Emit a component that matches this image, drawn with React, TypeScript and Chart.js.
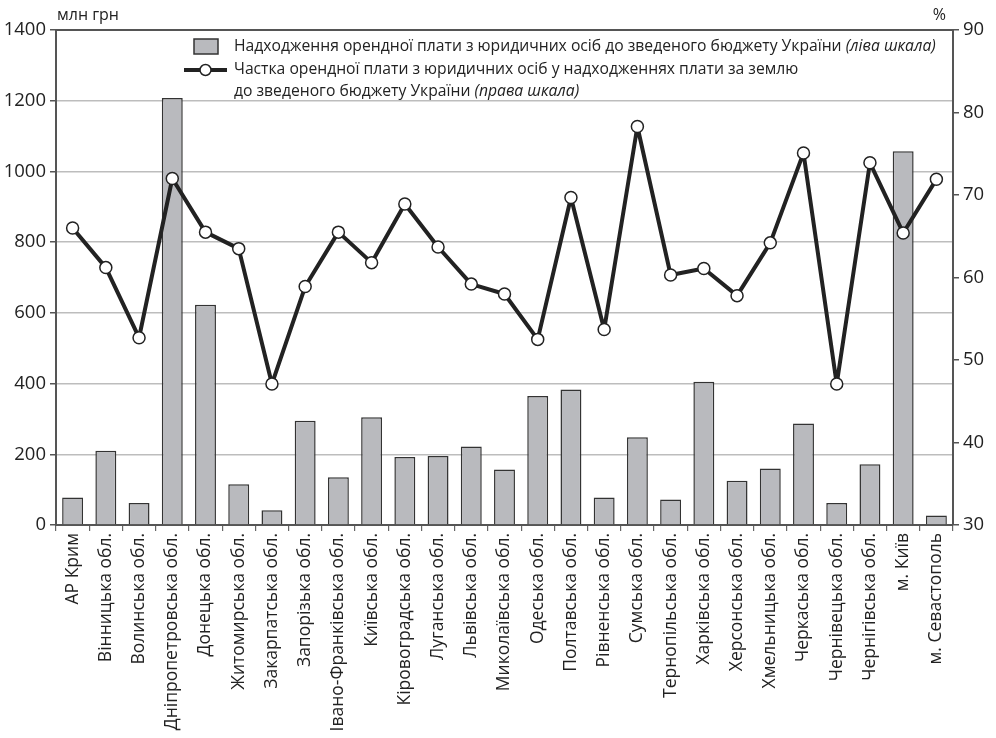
import React, { useEffect, useRef } from "react";
import { Chart, registerables } from "chart.js";

Chart.register(...registerables);

const categories = [
  "АР Крим", "Вінницька обл.", "Волинська обл.", "Дніпропетровська обл.", "Донецька обл.",
  "Житомирська обл.", "Закарпатська обл.", "Запорізька обл.", "Івано-Франківська обл.", "Київська обл.",
  "Кіровоградська обл.", "Луганська обл.", "Львівська обл.", "Миколаївська обл.", "Одеська обл.",
  "Полтавська обл.", "Рівненська обл.", "Сумська обл.", "Тернопільська обл.", "Харківська обл.",
  "Херсонська обл.", "Хмельницька обл.", "Черкаська обл.", "Чернівецька обл.", "Чернігівська обл.",
  "м. Київ", "м. Севастополь",
];

const rentRevenue = [
  78, 210, 62, 1208, 623, 115, 42, 295, 135, 305, 192, 195, 222, 157, 365,
  383, 78, 248, 72, 405, 125, 160, 287, 62, 172, 1057, 27,
];

const rentShare = [
  66.0, 61.2, 52.7, 72.0, 65.5, 63.5, 47.1, 58.9, 65.5, 61.8, 68.9, 63.7, 59.2, 58.0, 52.5,
  69.7, 53.7, 78.3, 60.3, 61.1, 57.8, 64.2, 75.1, 47.1, 73.9, 65.4, 71.9,
];

const leftTicks = [0, 200, 400, 600, 800, 1000, 1200, 1400];
const rightTicks = [30, 40, 50, 60, 70, 80, 90];

const legendBarText = "Надходження орендної плати з юридичних осіб до зведеного бюджету України ";
const legendBarItalic = "(ліва шкала)";
const legendLineText1 = "Частка орендної плати з юридичних осіб у надходженнях плати за землю";
const legendLineText2 = "до зведеного бюджету України ";
const legendLineItalic = "(права шкала)";
const leftUnit = "млн грн";
const rightUnit = "%";

const FONT = "'Open Sans', 'Noto Sans', sans-serif";
const TEXT = "#222";
const AXIS = "#555";
const GRID = "#bdbdbd";
const BAR_FILL = "#b9babe";
const BAR_BORDER = "#333";

const overlayPlugin = {
  id: "overlay",
  afterDraw(chart: any) {
    const ctx = chart.ctx;
    const a = chart.chartArea;
    ctx.save();
    // top border
    ctx.strokeStyle = AXIS;
    ctx.lineWidth = 2;
    ctx.beginPath();
    ctx.moveTo(a.left, a.top);
    ctx.lineTo(a.right, a.top);
    ctx.stroke();

    // unit labels
    ctx.fillStyle = TEXT;
    ctx.textBaseline = "middle";
    ctx.font = `16px ${FONT}`;
    ctx.textAlign = "left";
    ctx.fillText(leftUnit, a.left + 1, 15);
    ctx.textAlign = "right";
    ctx.fillText(rightUnit, a.right - 7, 15);

    // legend
    const tx = 234;
    const rows = [47, 70, 92];
    ctx.fillStyle = BAR_FILL;
    ctx.strokeStyle = BAR_BORDER;
    ctx.lineWidth = 1.5;
    ctx.fillRect(194, 39, 24, 15);
    ctx.strokeRect(194, 39, 24, 15);

    ctx.strokeStyle = "#222";
    ctx.lineWidth = 4;
    ctx.beginPath();
    ctx.moveTo(184, rows[1]);
    ctx.lineTo(227, rows[1]);
    ctx.stroke();
    ctx.fillStyle = "#fff";
    ctx.lineWidth = 1.5;
    ctx.beginPath();
    ctx.arc(205.5, rows[1], 5.5, 0, Math.PI * 2);
    ctx.fill();
    ctx.stroke();

    const normal = `15.7px ${FONT}`;
    const italic = `italic 15.7px ${FONT}`;
    ctx.fillStyle = TEXT;
    ctx.textAlign = "left";
    ctx.font = normal;
    ctx.fillText(legendBarText, tx, rows[0]);
    let w = ctx.measureText(legendBarText).width;
    ctx.font = italic;
    ctx.fillText(legendBarItalic, tx + w, rows[0]);
    ctx.font = normal;
    ctx.fillText(legendLineText1, tx, rows[1]);
    ctx.fillText(legendLineText2, tx, rows[2]);
    w = ctx.measureText(legendLineText2).width;
    ctx.font = italic;
    ctx.fillText(legendLineItalic, tx + w, rows[2]);
    ctx.restore();
  },
};

export default function App() {
  const ref = useRef<HTMLCanvasElement | null>(null);

  useEffect(() => {
    document.body.style.margin = "0";
    const canvas = ref.current;
    if (!canvas) return;
    const chart = new Chart(canvas, {
      type: "bar",
      data: {
        labels: categories,
        datasets: [
          {
            type: "line",
            label: "share",
            data: rentShare,
            yAxisID: "y1",
            borderColor: "#222",
            borderWidth: 4,
            borderJoinStyle: "round",
            pointRadius: 6,
            pointBackgroundColor: "#fff",
            pointBorderColor: "#222",
            pointBorderWidth: 1.5,
            tension: 0,
            order: 0,
          } as any,
          {
            type: "bar",
            label: "revenue",
            data: rentRevenue,
            yAxisID: "y",
            backgroundColor: BAR_FILL,
            borderColor: BAR_BORDER,
            borderWidth: 1.5,
            barPercentage: 0.63,
            categoryPercentage: 1,
            order: 1,
          },
        ],
      },
      options: {
        responsive: false,
        animation: false,
        layout: { padding: { top: 30, left: 0, right: 0, bottom: 0 } },
        plugins: { legend: { display: false }, tooltip: { enabled: false } },
        scales: {
          x: {
            grid: {
              display: true,
              drawOnChartArea: false,
              drawTicks: true,
              tickLength: 6,
              color: "#666",
              lineWidth: 1.2,
              offset: true,
            },
            border: { display: true, color: AXIS, width: 2 },
            ticks: {
              color: TEXT,
              font: { family: FONT, size: 17.5 },
              minRotation: 90,
              maxRotation: 90,
              autoSkip: false,
              padding: 2,
            },
            afterFit(scale: any) {
              scale.height = 213;
            },
          },
          y: {
            position: "left",
            min: 0,
            max: 1400,
            afterBuildTicks(scale: any) {
              scale.ticks = leftTicks.map((v) => ({ value: v }));
            },
            grid: {
              color: GRID,
              lineWidth: 1.5,
              drawTicks: true,
              tickLength: 6,
              tickColor: AXIS,
            },
            border: { display: true, color: AXIS, width: 2 },
            ticks: {
              color: TEXT,
              font: { family: FONT, size: 18.5 },
              padding: 4,
              callback: (v: any) => String(v),
            },
            afterFit(scale: any) {
              scale.width = 56;
            },
          },
          y1: {
            position: "right",
            min: 30,
            max: 90,
            afterBuildTicks(scale: any) {
              scale.ticks = rightTicks.map((v) => ({ value: v }));
            },
            grid: {
              drawOnChartArea: false,
              drawTicks: true,
              tickLength: 6,
              color: AXIS,
              lineWidth: 1.5,
            },
            border: { display: true, color: AXIS, width: 2 },
            ticks: {
              color: TEXT,
              font: { family: FONT, size: 18.5 },
              padding: 4,
              callback: (v: any) => String(v),
            },
            afterFit(scale: any) {
              scale.width = 43;
            },
          },
        },
      },
      plugins: [overlayPlugin],
    });
    return () => chart.destroy();
  }, []);

  return (
    <div style={{ position: "absolute", left: 0, top: 0, width: 996, height: 738, background: "#fff" }}>
      <canvas ref={ref} width={996} height={738} style={{ display: "block" }} />
    </div>
  );
}
